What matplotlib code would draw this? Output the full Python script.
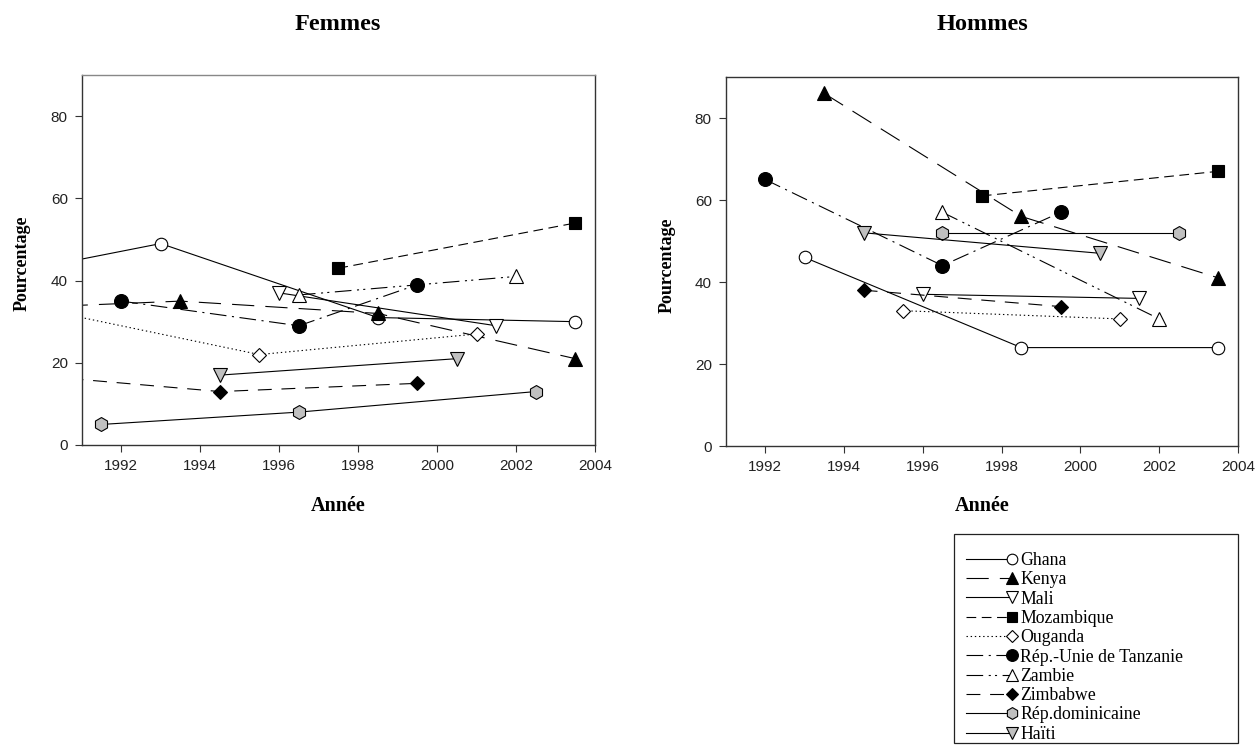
import matplotlib
matplotlib.use("Agg")
import matplotlib.pyplot as plt
from matplotlib.legend_handler import HandlerLine2D
from matplotlib.patches import Rectangle

plt.rcParams['lines.scale_dashes'] = False

countries = ["Ghana", "Kenya", "Mali", "Mozambique", "Ouganda",
             "Rép.-Unie de Tanzanie", "Zambie", "Zimbabwe",
             "Rép.dominicaine", "Haïti"]

# Femmes (first points of some series lie before 1991, outside the view)
f_ghana_x = [1988.5, 1993, 1998.5, 2003.5]
f_ghana_y = [40.5, 49, 31, 30]
f_kenya_x = [1988.5, 1993.5, 1998.5, 2003.5]
f_kenya_y = [33, 35, 32, 21]
f_mali_x = [1996, 2001.5]
f_mali_y = [37, 29]
f_mozambique_x = [1997.5, 2003.5]
f_mozambique_y = [43, 54]
f_ouganda_x = [1988.5, 1995.5, 2001]
f_ouganda_y = [36, 22, 27]
f_tanzanie_x = [1992, 1996.5, 1999.5]
f_tanzanie_y = [35, 29, 39]
f_zambie_x = [1996.5, 2002]
f_zambie_y = [36.5, 41]
f_zimbabwe_x = [1988.5, 1994.5, 1999.5]
f_zimbabwe_y = [18, 13, 15]
f_repdom_x = [1991.5, 1996.5, 2002.5]
f_repdom_y = [5, 8, 13]
f_haiti_x = [1994.5, 2000.5]
f_haiti_y = [17, 21]

# Hommes
h_ghana_x = [1993, 1998.5, 2003.5]
h_ghana_y = [46, 24, 24]
h_kenya_x = [1993.5, 1998.5, 2003.5]
h_kenya_y = [86, 56, 41]
h_mali_x = [1996, 2001.5]
h_mali_y = [37, 36]
h_mozambique_x = [1997.5, 2003.5]
h_mozambique_y = [61, 67]
h_ouganda_x = [1995.5, 2001]
h_ouganda_y = [33, 31]
h_tanzanie_x = [1992, 1996.5, 1999.5]
h_tanzanie_y = [65, 44, 57]
h_zambie_x = [1996.5, 2002]
h_zambie_y = [57, 31]
h_zimbabwe_x = [1994.5, 1999.5]
h_zimbabwe_y = [38, 34]
h_repdom_x = [1996.5, 2002.5]
h_repdom_y = [52, 52]
h_haiti_x = [1994.5, 2000.5]
h_haiti_y = [52, 47]

x_ticks = [1992, 1994, 1996, 1998, 2000, 2002, 2004]
y_ticks = [0, 20, 40, 60, 80]

femmes = [(f_ghana_x, f_ghana_y), (f_kenya_x, f_kenya_y), (f_mali_x, f_mali_y),
          (f_mozambique_x, f_mozambique_y), (f_ouganda_x, f_ouganda_y),
          (f_tanzanie_x, f_tanzanie_y), (f_zambie_x, f_zambie_y),
          (f_zimbabwe_x, f_zimbabwe_y), (f_repdom_x, f_repdom_y), (f_haiti_x, f_haiti_y)]
hommes = [(h_ghana_x, h_ghana_y), (h_kenya_x, h_kenya_y), (h_mali_x, h_mali_y),
          (h_mozambique_x, h_mozambique_y), (h_ouganda_x, h_ouganda_y),
          (h_tanzanie_x, h_tanzanie_y), (h_zambie_x, h_zambie_y),
          (h_zimbabwe_x, h_zimbabwe_y), (h_repdom_x, h_repdom_y), (h_haiti_x, h_haiti_y)]

GRAY = '#c0c0c0'
styles = [
    dict(ls='-', marker='o', mfc='white', ms=9),
    dict(ls=(0, (16, 8)), marker='^', mfc='black', ms=9.5),
    dict(ls='-', marker='v', mfc='white', ms=9.5),
    dict(ls=(0, (7, 4)), marker='s', mfc='black', ms=8),
    dict(ls=(0, (1, 2)), marker='D', mfc='white', ms=7),
    dict(ls=(0, (12, 4, 1.5, 4)), marker='o', mfc='black', ms=10),
    dict(ls=(0, (12, 4, 1.5, 3, 1.5, 4)), marker='^', mfc='white', ms=9.5),
    dict(ls=(0, (10, 7)), marker='D', mfc='black', ms=7.5),
    dict(ls='-', marker='h', mfc=GRAY, ms=10),
    dict(ls='-', marker='v', mfc=GRAY, ms=9.5),
]

W, H = 1256, 749
fig = plt.figure(figsize=(W / 100, H / 100), dpi=100)
ax1 = fig.add_axes([81.7 / W, 1 - 445 / H, (595 - 81.7) / W, 370 / H])
ax2 = fig.add_axes([725.7 / W, 1 - 446 / H, (1238 - 725.7) / W, 369 / H])

serif = 'Liberation Serif'
sans = 'Liberation Sans'

handles = []
for ax, data in ((ax1, femmes), (ax2, hommes)):
    for name, (xs, ys), st in zip(countries, data, styles):
        ln, = ax.plot(xs, ys, color='black', lw=0.8, ls=st['ls'], marker=st['marker'],
                      mfc=st['mfc'], mec='black', mew=0.8, ms=st['ms'], label=name)
        if ax is ax1:
            handles.append(ln)
    ax.set_xlim(1991, 2004)
    ax.set_ylim(0, 90)
    ax.set_xticks(x_ticks)
    ax.set_yticks(y_ticks)
    ax.tick_params(direction='out', length=5, width=0.8, color='#333333', pad=5)
    for lab in ax.get_xticklabels() + ax.get_yticklabels():
        lab.set_fontfamily(sans)
        lab.set_fontsize(11)
        lab.set_color('#222222')
    for sp in ax.spines.values():
        sp.set_linewidth(1.0)
        sp.set_color('#333333')
    ax.set_xlabel('Année', fontfamily=serif, fontweight='bold', fontsize=14.5)
    ax.set_ylabel('Pourcentage', fontfamily=serif, fontweight='bold', fontsize=13)
    ax.xaxis.label.set_va('center')
    ax.yaxis.label.set_va('center')

ax1.spines['top'].set_color('#888888')
ax1.xaxis.set_label_coords(0.5, (445 - 506) / 370)
ax1.yaxis.set_label_coords((22 - 81.7) / 513.3, 0.49)
ax2.xaxis.set_label_coords(0.5, (446 - 506) / 369)
ax2.yaxis.set_label_coords((667 - 725.7) / 512.3, 0.49)

fig.text(338 / W, 1 - 25 / H, 'Femmes', ha='center', va='center',
         fontfamily=serif, fontweight='bold', fontsize=17.5)
fig.text(982 / W, 1 - 25 / H, 'Hommes', ha='center', va='center',
         fontfamily=serif, fontweight='bold', fontsize=17.5)


class EndMarkerHandler(HandlerLine2D):
    def create_artists(self, legend, orig_handle, xdescent, ydescent, width,
                       height, fontsize, trans):
        arts = super().create_artists(legend, orig_handle, xdescent, ydescent,
                                      width, height, fontsize, trans)
        for a in arts:
            try:
                n = len(a.get_xdata())
                if a.get_marker() not in (None, 'None', ''):
                    a.set_markevery([n - 1])
            except Exception:
                pass
        return arts


# legend frame (styling only)
fig.patches.append(Rectangle((954 / W, 1 - 743 / H), (1238 - 954) / W, (743 - 534) / H,
                             transform=fig.transFigure, facecolor='white',
                             edgecolor='#222222', linewidth=0.9, zorder=0))

leg = fig.legend(handles=handles, labels=countries, loc='upper left',
                 bbox_to_anchor=(966 / W, 1 - 552 / H),
                 prop={'family': serif, 'size': 12.8}, markerscale=0.85,
                 handler_map={type(handles[0]): EndMarkerHandler(numpoints=1)},
                 handlelength=2.6, handletextpad=0.45, labelspacing=0.13,
                 borderpad=0, frameon=False, borderaxespad=0)

fig.savefig('out.png', dpi=100)
